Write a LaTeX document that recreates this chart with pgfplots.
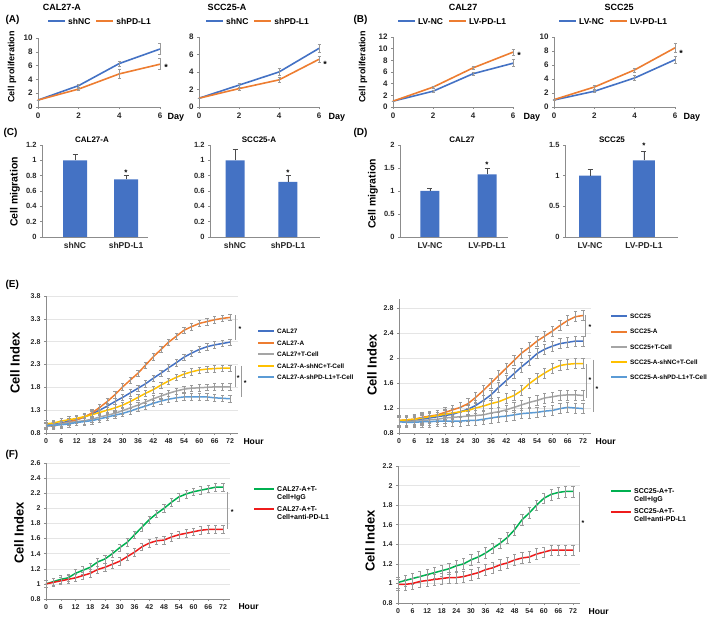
\documentclass[border=0pt]{standalone}
\usepackage{fontspec}
\setmainfont{Liberation Sans}
\usepackage{pgfplots}
\usepackage{pgfplotstable}
\pgfplotsset{compat=1.18}

\definecolor{cBlue}{HTML}{4472C4}
\definecolor{cOrange}{HTML}{ED7D31}
\definecolor{cGray}{HTML}{A5A5A5}
\definecolor{cYellow}{HTML}{FFC000}
\definecolor{cLBlue}{HTML}{5B9BD5}
\definecolor{cGreen}{HTML}{00B050}
\definecolor{cRed}{HTML}{EE1C1C}
\definecolor{cErr}{HTML}{9A9A9A}

\newcommand{\fs}[1]{\fontsize{#1}{#1}\selectfont\bfseries}

% cell index, CAL27 group (E left)
\pgfplotstableread{
h   a    b    c    d    e
0   0.97 0.96 0.96 1.00 0.95
3   0.99 0.95 0.98 1.02 0.97
6   1.02 1.00 1.00 1.06 0.98
9   1.06 1.04 1.03 1.09 1.00
12  1.09 1.09 1.05 1.12 1.03
15  1.15 1.15 1.07 1.16 1.05
18  1.22 1.24 1.10 1.20 1.07
21  1.30 1.36 1.15 1.25 1.11
24  1.39 1.49 1.19 1.30 1.15
27  1.49 1.64 1.23 1.35 1.19
30  1.58 1.81 1.29 1.41 1.23
33  1.68 1.96 1.35 1.49 1.28
36  1.78 2.11 1.41 1.58 1.34
39  1.88 2.29 1.48 1.67 1.39
42  2.00 2.47 1.55 1.75 1.45
45  2.11 2.63 1.61 1.85 1.50
48  2.23 2.79 1.67 1.94 1.54
51  2.34 2.92 1.72 2.02 1.57
54  2.46 3.05 1.76 2.09 1.59
57  2.55 3.13 1.78 2.14 1.59
60  2.63 3.20 1.79 2.18 1.59
63  2.69 3.24 1.80 2.20 1.59
66  2.73 3.28 1.81 2.21 1.57
69  2.76 3.31 1.81 2.22 1.56
72  2.79 3.33 1.81 2.22 1.55
}\ciCAL

% cell index, SCC25 group (E right)
\pgfplotstableread{
h   a    b    c    d    e
0   0.99 1.00 0.98 1.00 0.98
3   0.99 1.01 0.98 1.01 0.97
6   1.00 1.02 0.99 1.02 0.97
9   1.02 1.05 1.00 1.04 0.98
12  1.04 1.07 1.01 1.06 0.98
15  1.06 1.09 1.02 1.08 0.99
18  1.08 1.13 1.04 1.10 0.99
21  1.10 1.17 1.05 1.12 0.99
24  1.14 1.21 1.06 1.14 0.99
27  1.18 1.27 1.07 1.16 1.00
30  1.24 1.37 1.08 1.20 1.00
33  1.32 1.48 1.09 1.23 1.02
36  1.41 1.60 1.12 1.27 1.04
39  1.53 1.72 1.14 1.30 1.06
42  1.64 1.84 1.17 1.35 1.07
45  1.75 1.96 1.21 1.40 1.09
48  1.86 2.08 1.25 1.48 1.11
51  1.96 2.17 1.29 1.59 1.12
54  2.07 2.27 1.32 1.68 1.13
57  2.14 2.35 1.36 1.76 1.15
60  2.19 2.43 1.38 1.83 1.16
63  2.23 2.52 1.40 1.88 1.19
66  2.25 2.60 1.41 1.90 1.21
69  2.27 2.66 1.41 1.91 1.20
72  2.27 2.68 1.40 1.91 1.19
}\ciSCC

% antibody blocking (F)
\pgfplotstableread{
h   igg  anti
0   1.00 1.00
3   1.03 1.02
6   1.06 1.04
9   1.08 1.06
12  1.14 1.08
15  1.18 1.11
18  1.22 1.14
21  1.29 1.19
24  1.33 1.22
27  1.40 1.26
30  1.48 1.30
33  1.55 1.36
36  1.65 1.42
39  1.75 1.49
42  1.85 1.54
45  1.93 1.57
48  2.00 1.58
51  2.08 1.62
54  2.15 1.65
57  2.19 1.67
60  2.22 1.69
63  2.24 1.71
66  2.26 1.72
69  2.28 1.72
72  2.28 1.72
}\abCAL

\pgfplotstableread{
h   igg  anti
0   1.01 0.99
3   1.03 0.99
6   1.05 1.00
9   1.07 1.02
12  1.09 1.03
15  1.11 1.04
18  1.13 1.05
21  1.15 1.06
24  1.18 1.06
27  1.20 1.07
30  1.24 1.09
33  1.27 1.11
36  1.31 1.14
39  1.36 1.16
42  1.41 1.19
45  1.47 1.21
48  1.55 1.24
51  1.65 1.26
54  1.72 1.27
57  1.80 1.30
60  1.87 1.32
63  1.91 1.34
66  1.93 1.34
69  1.94 1.34
72  1.94 1.34
}\abSCC

\pgfplotsset{
  base/.style={scale only axis, anchor=south west, clip=false,
    axis x line*=bottom, axis y line*=left,
    axis line style={draw=black!45, line width=0.6pt, -},
    tick style={draw=black!45, line width=0.5pt},
    tick align=outside, major tick length=2pt,
    ticklabel style={text=black!85},
    /pgf/number format/assume math mode=true,
    /pgf/number format/fixed},
  growth/.style={base, xmin=0, xmax=6, ymin=0, xtick={0,2,4,6},
    ticklabel style={font=\fs{8}},
    legend columns=2,
    legend style={draw=none, fill=none, font=\fs{8.5}, inner sep=0pt, anchor=west,
      cells={anchor=base west}, nodes={inner sep=0pt},
      /tikz/every odd column/.append style={column sep=2pt},
      /tikz/every even column/.append style={column sep=5pt}},
    legend image code/.code={\draw[##1, line width=2pt] (0pt,3pt) -- (17pt,3pt);},
    error bars/y dir=both, error bars/y explicit,
    error bars/error bar style={draw=cErr, line width=0.5pt},
    error bars/error mark options={draw=cErr, rotate=90, mark size=1.5pt, line width=0.5pt}},
  mig/.style={base, ybar, ymin=0, xtick={0,1},
    ticklabel style={font=\fs{7.5}},
    xticklabel style={font=\fs{8.5}},
    x tick style={draw=none},
    error bars/y dir=plus, error bars/y explicit,
    error bars/error bar style={draw=black!70, line width=0.5pt},
    error bars/error mark options={draw=black!70, rotate=90, mark size=2.5pt, line width=0.5pt}},
  ci/.style={base, xmin=0, xmax=75, xtick={0,6,...,72},
    ticklabel style={font=\fs{7}},
    ymajorgrids, grid style={draw=black!10, line width=0.5pt},
    every axis plot/.append style={line width=1.5pt},
    error bars/y dir=both,
    error bars/error bar style={draw=cErr, line width=0.45pt},
    error bars/error mark options={draw=cErr, rotate=90, mark size=1.6pt, line width=0.45pt},
    legend style={draw=none, fill=none, inner sep=0pt, anchor=north west,
      cells={anchor=base west}, nodes={inner sep=0pt},
      /tikz/every odd column/.append style={column sep=2pt}}},
  cileg/.style={legend style={font=\fs{6.4}, nodes={text height=4.6pt, text depth=1.2pt}},
    legend image code/.code={\draw[##1, line width=2pt] (0pt,2.2pt) -- (16pt,2.2pt);}},
  ableg/.style={legend style={font=\fontsize{7}{8}\selectfont\bfseries, row sep=13pt},
    legend image code/.code={\draw[##1, line width=2pt] (0pt,2.4pt) -- (20pt,2.4pt);}},
}

\begin{document}
\begin{tikzpicture}
\useasboundingbox (0,0) rectangle (709pt,617pt);

%---------------- (A) and (B): proliferation
\node[anchor=west, font=\fs{10}] at (2pt,597pt) {(A)};
\node[anchor=west, font=\fs{10}] at (350pt,597pt) {(B)};
\node[font=\fs{9}] at (62pt,610pt) {CAL27-A};
\node[font=\fs{9}] at (227pt,610pt) {SCC25-A};
\node[font=\fs{9}] at (463pt,610pt) {CAL27};
\node[font=\fs{9}] at (619pt,610pt) {SCC25};
\node[rotate=90, font=\fs{9}] at (12pt,550pt) {Cell proliferation};
\node[rotate=90, font=\fs{9}] at (363pt,550pt) {Cell proliferation};
\node[anchor=west, font=\fs{9}] at (164pt,500pt) {Day};
\node[anchor=west, font=\fs{9}] at (325pt,500pt) {Day};
\node[anchor=west, font=\fs{9}] at (520pt,500pt) {Day};
\node[anchor=west, font=\fs{9}] at (680pt,500pt) {Day};

\begin{axis}[growth, at={(38pt,510pt)}, width=122pt, height=69pt, ymax=10, ytick={0,2,4,6,8,10},
  legend style={at={(axis description cs:0.074,1.232)}}]
\addplot[cBlue, line width=1.6pt] coordinates {(0,1) +- (0,0) (2,3.1) +- (0,0.2) (4,6.3) +- (0,0.4) (6,8.4) +- (0,0.8)};
\addlegendentry{shNC}
\addplot[cOrange, line width=1.6pt] coordinates {(0,1) +- (0,0) (2,2.6) +- (0,0.15) (4,4.8) +- (0,0.6) (6,6.2) +- (0,0.8)};
\addlegendentry{shPD-L1}
\node[font=\fs{9}] at (axis cs:6.3,5.8) {*};
\end{axis}

\begin{axis}[growth, at={(199pt,510pt)}, width=120pt, height=70pt, ymax=8, ytick={0,2,4,6,8},
  legend style={at={(axis description cs:0.05,1.214)}}]
\addplot[cBlue, line width=1.6pt] coordinates {(0,1) +- (0,0) (2,2.5) +- (0,0.2) (4,4.0) +- (0,0.4) (6,6.7) +- (0,0.5)};
\addlegendentry{shNC}
\addplot[cOrange, line width=1.6pt] coordinates {(0,1) +- (0,0) (2,2.1) +- (0,0.15) (4,3.1) +- (0,0.3) (6,5.45) +- (0,0.3)};
\addlegendentry{shPD-L1}
\node[font=\fs{9}] at (axis cs:6.3,4.9) {*};
\end{axis}

\begin{axis}[growth, at={(393pt,510pt)}, width=120pt, height=70pt, ymax=12, ytick={0,2,4,6,8,10,12},
  legend style={at={(axis description cs:0.033,1.214)}}]
\addplot[cBlue, line width=1.6pt] coordinates {(0,1) +- (0,0) (2,2.7) +- (0,0.15) (4,5.7) +- (0,0.3) (6,7.5) +- (0,0.6)};
\addlegendentry{LV-NC}
\addplot[cOrange, line width=1.6pt] coordinates {(0,1) +- (0,0) (2,3.4) +- (0,0.2) (4,6.7) +- (0,0.3) (6,9.4) +- (0,0.5)};
\addlegendentry{LV-PD-L1}
\node[font=\fs{9}] at (axis cs:6.3,8.8) {*};
\end{axis}

\begin{axis}[growth, at={(554pt,510pt)}, width=121pt, height=70pt, ymax=10, ytick={0,2,4,6,8,10},
  legend style={at={(axis description cs:0.033,1.214)}}]
\addplot[cBlue, line width=1.6pt] coordinates {(0,1) +- (0,0) (2,2.25) +- (0,0.2) (4,4.15) +- (0,0.4) (6,6.75) +- (0,0.5)};
\addlegendentry{LV-NC}
\addplot[cOrange, line width=1.6pt] coordinates {(0,1.05) +- (0,0) (2,2.85) +- (0,0.3) (4,5.3) +- (0,0.3) (6,8.45) +- (0,0.7)};
\addlegendentry{LV-PD-L1}
\node[font=\fs{9}] at (axis cs:6.3,7.7) {*};
\end{axis}

%---------------- (C) and (D): migration
\node[anchor=west, font=\fs{10}] at (0pt,484pt) {(C)};
\node[anchor=west, font=\fs{10}] at (350pt,484pt) {(D)};
\node[font=\fs{8}] at (92pt,477pt) {CAL27-A};
\node[font=\fs{8}] at (259pt,477pt) {SCC25-A};
\node[font=\fs{8}] at (462pt,477pt) {CAL27};
\node[font=\fs{8}] at (612pt,477pt) {SCC25};
\node[rotate=90, font=\fs{10.5}] at (15pt,425pt) {Cell migration};
\node[rotate=90, font=\fs{10.5}] at (373pt,423pt) {Cell migration};

\begin{axis}[mig, at={(42pt,380pt)}, width=106pt, height=92pt, xmin=-0.647, xmax=1.43,
  ymax=1.2, ytick={0,0.2,0.4,0.6,0.8,1,1.2}, xticklabels={shNC,shPD-L1}, bar width=24pt]
\addplot[fill=cBlue, draw=none] coordinates {(0,1) +- (0,0.08) (1,0.75) +- (0,0.05)};
\node[font=\fs{8}] at (axis cs:1,0.84) {*};
\end{axis}

\begin{axis}[mig, at={(210pt,380pt)}, width=110pt, height=92pt, xmin=-0.472, xmax=1.604,
  ymax=1.2, ytick={0,0.2,0.4,0.6,0.8,1,1.2}, xticklabels={shNC,shPD-L1}, bar width=19pt]
\addplot[fill=cBlue, draw=none] coordinates {(0,1) +- (0,0.15) (1,0.72) +- (0,0.08)};
\node[font=\fs{8}] at (axis cs:1,0.84) {*};
\end{axis}

\begin{axis}[mig, at={(400pt,380pt)}, width=108pt, height=92pt, xmin=-0.526, xmax=1.368,
  ymax=2, ytick={0,0.5,1,1.5,2}, xticklabels={LV-NC,LV-PD-L1}, bar width=19pt]
\addplot[fill=cBlue, draw=none] coordinates {(0,1) +- (0,0.06) (1,1.36) +- (0,0.14)};
\node[font=\fs{8}] at (axis cs:1,1.58) {*};
\end{axis}

\begin{axis}[mig, at={(565pt,380pt)}, width=113pt, height=92pt, xmin=-0.463, xmax=1.63,
  ymax=1.5, ytick={0,0.5,1,1.5}, xticklabels={LV-NC,LV-PD-L1}, bar width=22pt]
\addplot[fill=cBlue, draw=none] coordinates {(0,1) +- (0,0.1) (1,1.25) +- (0,0.15)};
\node[font=\fs{8}] at (axis cs:1,1.48) {*};
\end{axis}

%---------------- (E): co-culture with T cells
\node[anchor=west, font=\fs{10}] at (2pt,332pt) {(E)};
\node[rotate=90, font=\fs{13}] at (15pt,254pt) {Cell Index};
\node[rotate=90, font=\fs{13}] at (372pt,252pt) {Cell Index};
\node[anchor=west, font=\fs{8.6}] at (240pt,175pt) {Hour};
\node[anchor=west, font=\fs{8.6}] at (592pt,175pt) {Hour};

\begin{axis}[ci, cileg, at={(46pt,184pt)}, width=191.7pt, height=137pt,
  ymin=0.8, ymax=3.8, ytick={0.8,1.3,1.8,2.3,2.8,3.3,3.8}, error bars/y fixed=0.07,
  legend style={at={(axis description cs:1.1007,0.761)}, row sep=5.7pt}]
\addplot[cBlue] table[x=h, y=a] {\ciCAL};
\addlegendentry{CAL27}
\addplot[cOrange] table[x=h, y=b] {\ciCAL};
\addlegendentry{CAL27-A}
\addplot[cGray] table[x=h, y=c] {\ciCAL};
\addlegendentry{CAL27+T-Cell}
\addplot[cYellow] table[x=h, y=d] {\ciCAL};
\addlegendentry{CAL27-A-shNC+T-Cell}
\addplot[cLBlue] table[x=h, y=e] {\ciCAL};
\addlegendentry{CAL27-A-shPD-L1+T-Cell}
\draw[cErr, line width=0.6pt] (axis cs:73.9,3.38) -- (axis cs:73.9,2.84);
\node[font=\fs{7}] at (axis cs:75.9,3.08) {*};
\draw[cErr, line width=0.6pt] (axis cs:73.9,2.27) -- (axis cs:73.9,1.81);
\node[font=\fs{7}] at (axis cs:75.2,2.01) {*};
\draw[cErr, line width=0.6pt] (axis cs:76.3,2.27) -- (axis cs:76.3,1.59);
\node[font=\fs{7}] at (axis cs:77.9,1.90) {*};
\end{axis}

\begin{axis}[ci, cileg, at={(399pt,184pt)}, width=191.7pt, height=134.4pt,
  ymin=0.8, ymax=2.95, ytick={0.8,1.2,1.6,2,2.4,2.8}, error bars/y fixed=0.08,
  legend style={at={(axis description cs:1.1007,0.888)}, row sep=9.5pt}]
\addplot[cBlue] table[x=h, y=a] {\ciSCC};
\addlegendentry{SCC25}
\addplot[cOrange] table[x=h, y=b] {\ciSCC};
\addlegendentry{SCC25-A}
\addplot[cGray] table[x=h, y=c] {\ciSCC};
\addlegendentry{SCC25+T-Cell}
\addplot[cYellow] table[x=h, y=d] {\ciSCC};
\addlegendentry{SCC25-A-shNC+T-Cell}
\addplot[cLBlue] table[x=h, y=e] {\ciSCC};
\addlegendentry{SCC25-A-shPD-L1+T-Cell}
\draw[cErr, line width=0.6pt] (axis cs:72.8,2.69) -- (axis cs:72.8,2.34);
\node[font=\fs{7}] at (axis cs:74.7,2.49) {*};
\draw[cErr, line width=0.6pt] (axis cs:73.2,1.90) -- (axis cs:73.2,1.36);
\node[font=\fs{7}] at (axis cs:74.7,1.64) {*};
\draw[cErr, line width=0.6pt] (axis cs:75.9,1.97) -- (axis cs:75.9,1.14);
\node[font=\fs{7}] at (axis cs:77.5,1.50) {*};
\end{axis}

%---------------- (F): anti-PD-L1 blocking
\node[anchor=west, font=\fs{10}] at (2pt,162pt) {(F)};
\node[rotate=90, font=\fs{13}] at (19pt,84pt) {Cell Index};
\node[rotate=90, font=\fs{13}] at (370pt,76pt) {Cell Index};
\node[anchor=west, font=\fs{8.6}] at (235pt,10pt) {Hour};
\node[anchor=west, font=\fs{8.6}] at (585pt,5pt) {Hour};

\begin{axis}[ci, ableg, at={(46pt,18pt)}, width=184.4pt, height=136pt,
  ymin=0.8, ymax=2.6, ytick={0.8,1,1.2,1.4,1.6,1.8,2,2.2,2.4,2.6}, error bars/y fixed=0.05,
  legend style={at={(axis description cs:1.1226,0.831)}}]
\addplot[cGreen] table[x=h, y=igg] {\abCAL};
\addlegendentry{\begin{tabular}[t]{@{}l@{}}CAL27-A+T-\\Cell+IgG\end{tabular}}
\addplot[cRed] table[x=h, y=anti] {\abCAL};
\addlegendentry{\begin{tabular}[t]{@{}l@{}}CAL27-A+T-\\Cell+anti-PD-L1\end{tabular}}
\draw[cErr, line width=0.6pt] (axis cs:73.6,2.22) -- (axis cs:73.6,1.73);
\node[font=\fs{7}] at (axis cs:75.7,1.95) {*};
\end{axis}

\begin{axis}[ci, ableg, at={(398pt,14pt)}, width=182.3pt, height=137pt,
  ymin=0.8, ymax=2.2, ytick={0.8,1,1.2,1.4,1.6,1.8,2,2.2}, error bars/y fixed=0.055,
  legend style={at={(axis description cs:1.163,0.839)}}]
\addplot[cGreen] table[x=h, y=igg] {\abSCC};
\addlegendentry{\begin{tabular}[t]{@{}l@{}}SCC25-A+T-\\Cell+IgG\end{tabular}}
\addplot[cRed] table[x=h, y=anti] {\abSCC};
\addlegendentry{\begin{tabular}[t]{@{}l@{}}SCC25-A+T-\\Cell+anti-PD-L1\end{tabular}}
\draw[cErr, line width=0.6pt] (axis cs:74.5,1.93) -- (axis cs:74.5,1.32);
\node[font=\fs{7}] at (axis cs:76.1,1.62) {*};
\end{axis}

\end{tikzpicture}
\end{document}
